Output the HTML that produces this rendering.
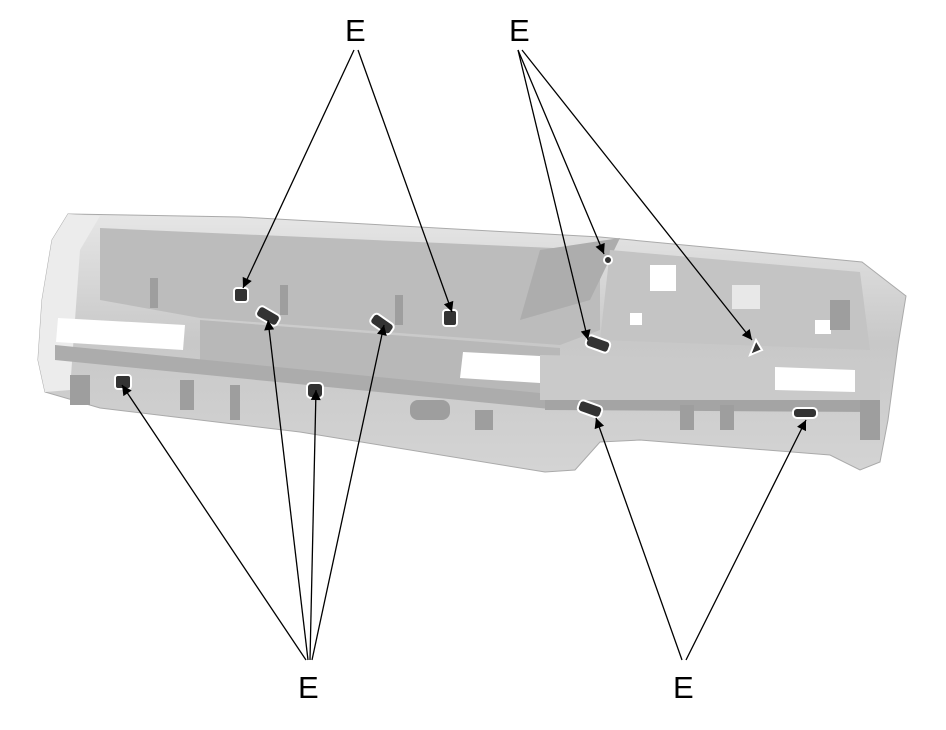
<!DOCTYPE html>
<html><head><style>
html,body{margin:0;padding:0;background:#fff;}
svg{display:block;}
text{font-family:"Liberation Sans",sans-serif;font-size:31px;fill:#000;}
</style></head><body>
<svg width="946" height="730" viewBox="0 0 946 730" xmlns="http://www.w3.org/2000/svg">
<defs>
<linearGradient id="g" x1="0" y1="0" x2="0" y2="1">
<stop offset="0" stop-color="#e6e6e6"/><stop offset="0.5" stop-color="#c8c8c8"/><stop offset="1" stop-color="#d4d4d4"/>
</linearGradient>
<marker id="a" viewBox="0 0 10 10" refX="10" refY="5" markerWidth="16" markerHeight="10" markerUnits="userSpaceOnUse" orient="auto">
<path d="M0,0 L10,5 L0,10 z" fill="#000"/></marker>
</defs>
<path d="M68,214 L240,217 L600,237 L862,262 L906,296 L898,345 L888,420 L880,462 L860,470 L830,455 L640,440 L600,442 L575,470 L545,472 L300,432 L100,408 L45,392 L38,360 L42,300 L52,240 Z" fill="url(#g)" stroke="#aaa" stroke-width="1"/>
<path d="M52,240 L68,214 L100,216 L80,250 L70,390 L45,392 L38,360 L42,300 Z" fill="#ececec"/>
<path d="M100,228 L600,250 L600,330 L560,345 L200,318 L100,300 Z" fill="#bcbcbc"/>
<path d="M540,250 L620,238 L590,300 L520,320 Z" fill="#adadad"/>
<path d="M610,250 L860,272 L870,350 L600,340 Z" fill="#c4c4c4"/>
<path d="M200,320 L560,348 L560,395 L200,370 Z" fill="#b8b8b8"/>
<path d="M55,345 L560,395 L560,410 L55,360 Z" fill="#acacac"/>
<path d="M540,355 L880,362 L880,400 L540,400 Z" fill="#cacaca"/>
<path d="M545,400 L880,400 L875,412 L545,410 Z" fill="#a4a4a4"/>
<path d="M58,318 L185,325 L183,350 L56,342 Z" fill="#fff"/>
<path d="M463,352 L540,356 L540,383 L460,378 Z" fill="#fff"/>
<path d="M775,367 L855,370 L855,392 L775,390 Z" fill="#fff"/>
<rect x="650" y="265" width="26" height="26" fill="#fff"/>
<rect x="732" y="285" width="28" height="24" fill="#e8e8e8"/>
<rect x="815" y="320" width="16" height="14" fill="#fff"/>
<rect x="630" y="313" width="12" height="12" fill="#fff"/>
<g fill="#9e9e9e">
<rect x="150" y="278" width="8" height="30"/><rect x="280" y="285" width="8" height="30"/>
<rect x="395" y="295" width="8" height="30"/><rect x="180" y="380" width="14" height="30"/>
<rect x="230" y="385" width="10" height="35"/><rect x="410" y="400" width="40" height="20" rx="8"/>
<rect x="475" y="410" width="18" height="20"/><rect x="680" y="405" width="14" height="25"/>
<rect x="720" y="405" width="14" height="25"/><rect x="830" y="300" width="20" height="30"/>
<rect x="860" y="400" width="20" height="40"/><rect x="70" y="375" width="20" height="30"/>
</g>
<g fill="#333" stroke="#fff" stroke-width="2">
<rect x="234" y="288" width="14" height="14" rx="3"/>
<rect x="256" y="310" width="24" height="12" rx="4" transform="rotate(30 268 316)"/>
<rect x="443" y="310" width="14" height="16" rx="3"/>
<rect x="370" y="318" width="24" height="12" rx="4" transform="rotate(35 382 324)"/>
<rect x="115" y="375" width="16" height="14" rx="3"/>
<rect x="307" y="383" width="16" height="15" rx="4"/>
<rect x="586" y="338" width="24" height="12" rx="4" transform="rotate(20 598 344)"/>
<circle cx="608" cy="260" r="4"/>
<path d="M750,355 L762,350 L756,340 Z"/>
<rect x="578" y="403" width="24" height="12" rx="4" transform="rotate(20 590 409)"/>
<rect x="793" y="408" width="24" height="10" rx="4"/>
</g>
<g stroke="#000" stroke-width="1.3" fill="none" marker-end="url(#a)">
<line x1="354" y1="50" x2="243" y2="288"/>
<line x1="358" y1="50" x2="452" y2="312"/>
<line x1="518" y1="50" x2="604" y2="254"/>
<line x1="518" y1="50" x2="588" y2="340"/>
<line x1="522" y1="50" x2="752" y2="340"/>
<line x1="306" y1="660" x2="122" y2="385"/>
<line x1="308" y1="660" x2="268" y2="320"/>
<line x1="310" y1="660" x2="316" y2="390"/>
<line x1="312" y1="660" x2="384" y2="325"/>
<line x1="682" y1="660" x2="596" y2="418"/>
<line x1="686" y1="660" x2="806" y2="420"/>
</g>
<text x="345" y="41">E</text>
<text x="509" y="41">E</text>
<text x="298" y="698">E</text>
<text x="673" y="698">E</text>
</svg>
</body></html>
